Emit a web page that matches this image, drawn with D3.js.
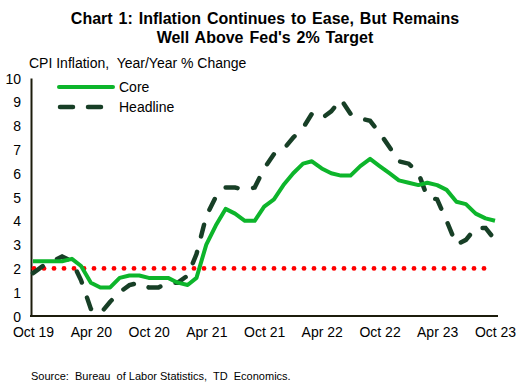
<!DOCTYPE html>
<html><head><meta charset="utf-8">
<script src="https://cdn.jsdelivr.net/npm/d3@7"></script>
<style>body{margin:0;background:#fff;} svg{display:block;font-family:"Liberation Sans",Arial,sans-serif;}</style>
</head><body>
<svg id="c" width="516" height="386"></svg>
<script>
const months = d3.range(49).map(i => new Date(2019, 9 + i, 1));
const core = [2.3,2.3,2.3,2.3,2.4,2.1,1.4,1.2,1.2,1.6,1.7,1.7,1.6,1.6,1.6,1.4,1.3,1.6,3.0,3.8,4.5,4.3,4.0,4.0,4.6,4.9,5.5,6.0,6.4,6.5,6.2,6.0,5.9,5.9,6.3,6.6,6.3,6.0,5.7,5.6,5.5,5.6,5.5,5.3,4.8,4.7,4.3,4.1,4.0];
const headline = [1.8,2.1,2.3,2.5,2.3,1.5,0.3,0.1,0.6,1.0,1.3,1.4,1.2,1.2,1.4,1.4,1.7,2.6,4.2,5.0,5.4,5.4,5.3,5.4,6.2,6.8,7.0,7.5,7.9,8.5,8.3,8.6,9.1,8.5,8.3,8.2,7.7,7.1,6.5,6.4,6.0,5.0,4.9,4.0,3.0,3.2,3.7,3.7,3.2];
const target = [2,2];
const yTicks = [0,1,2,3,4,5,6,7,8,9,10];
const xTickLabels = ["Oct 19","Apr 20","Oct 20","Apr 21","Oct 21","Apr 22","Oct 22","Apr 23","Oct 23"];
const seriesNames = ["Core","Headline"];

const svg = d3.select("#c");
const x = d3.scaleTime().domain([months[0], months[48]]).range([33, 495]);
const y = d3.scaleLinear().domain([0,10]).range([316, 78]);

// title
svg.append("text").attr("x",265).attr("y",24).attr("text-anchor","middle")
  .attr("font-size",16).attr("font-weight","bold").attr("word-spacing",1.5).text("Chart 1: Inflation Continues to Ease, But Remains");
svg.append("text").attr("x",265).attr("y",43).attr("text-anchor","middle")
  .attr("font-size",16).attr("font-weight","bold").attr("word-spacing",1.5).text("Well Above Fed's 2% Target");
svg.append("text").attr("x",29).attr("y",68).attr("font-size",14).attr("xml:space","preserve").text("CPI Inflation,  Year/Year % Change");

// y axis
const yAxis = d3.axisLeft(y).tickValues(yTicks).tickSize(0).tickPadding(10);
const gy = svg.append("g").attr("transform","translate(31,0)").call(yAxis);
gy.select(".domain").attr("stroke","#1c1c0c").attr("stroke-width",2);
gy.selectAll("text").attr("font-size",14).attr("font-family","Liberation Sans, Arial, sans-serif").attr("fill","#000").attr("dy","0.36em");

// x axis
const xTickDates = xTickLabels.map((d,i) => months[i*6]);
const xAxis = d3.axisBottom(x).tickValues(xTickDates).tickFormat((d,i)=>xTickLabels[i]).tickSize(0).tickPadding(0);
const gx = svg.append("g").attr("transform","translate(0,316)").call(xAxis);
gx.select(".domain").attr("stroke","#1c1c0c").attr("stroke-width",2).attr("d","M30,0H498");
gx.selectAll("text").attr("font-size",14).attr("font-family","Liberation Sans, Arial, sans-serif").attr("fill","#000").attr("y",21).attr("dy",0);

// target dotted line
const tgt = svg.append("g");
const dotDates = d3.range(46).map(i => 34 + i*10);
tgt.selectAll("circle").data(dotDates).join("circle")
  .attr("cx", d=>d).attr("cy", y(target[0])).attr("r",2.4).attr("fill","#ff0000");

const line = d3.line().x((d,i)=>x(months[i])).y(d=>y(Math.max(d,0)));
svg.append("path").datum(headline).attr("d",line).attr("fill","none")
  .attr("stroke","#173f26").attr("stroke-width",4.5).attr("stroke-linecap","round")
  .attr("stroke-dasharray","12,16");
svg.append("path").datum(core).attr("d",line).attr("fill","none")
  .attr("stroke","#0db52b").attr("stroke-width",4).attr("stroke-linejoin","round");

// legend
const lg = svg.append("g");
lg.append("line").attr("x1",59).attr("x2",113).attr("y1",87).attr("y2",87)
  .attr("stroke","#0db52b").attr("stroke-width",4).attr("stroke-linecap","round");
lg.append("line").attr("x1",60).attr("x2",102).attr("y1",107).attr("y2",107)
  .attr("stroke","#173f26").attr("stroke-width",4.5).attr("stroke-linecap","round").attr("stroke-dasharray","13,15");
lg.append("text").attr("x",119).attr("y",92).attr("font-size",14).text(seriesNames[0]);
lg.append("text").attr("x",119).attr("y",112).attr("font-size",14).text(seriesNames[1]);

svg.append("text").attr("x",31).attr("y",380).attr("font-size",11).attr("xml:space","preserve").text("Source:  Bureau  of Labor Statistics,  TD  Economics.");
</script>
</body></html>
